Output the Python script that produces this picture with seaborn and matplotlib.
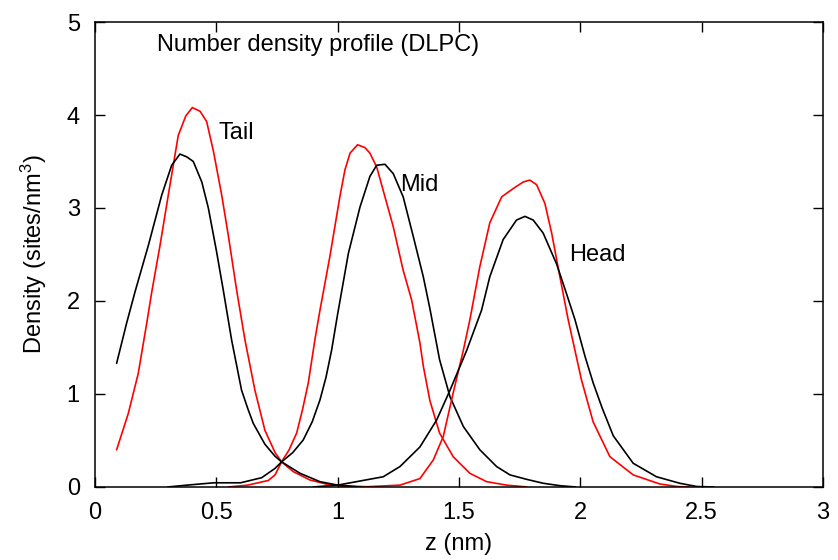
import matplotlib
matplotlib.use("Agg")
import matplotlib.pyplot as plt
import seaborn as sns
import pandas as pd

# ---- data ----
tail_red_z = [0.089, 0.137, 0.178, 0.213, 0.234, 0.268, 0.302, 0.343, 0.374, 0.401, 0.433, 0.460,
              0.488, 0.522, 0.549, 0.584, 0.618, 0.659, 0.700, 0.742, 0.769, 0.817, 0.886, 0.955,
              1.04, 1.10]
tail_red_y = [0.40, 0.79, 1.22, 1.76, 2.10, 2.60, 3.14, 3.78, 3.99, 4.08, 4.04, 3.93,
              3.61, 3.14, 2.71, 2.11, 1.58, 1.04, 0.61, 0.37, 0.27, 0.165, 0.075, 0.03,
              0.005, 0.0]

tail_blk_z = [0.089, 0.130, 0.165, 0.220, 0.275, 0.316, 0.350, 0.378, 0.405, 0.440, 0.467, 0.501,
              0.529, 0.563, 0.604, 0.630, 0.652, 0.700, 0.742, 0.769, 0.845, 0.927, 1.00, 1.08, 1.15]
tail_blk_y = [1.33, 1.76, 2.10, 2.60, 3.14, 3.46, 3.58, 3.55, 3.50, 3.28, 3.00, 2.53,
              2.11, 1.58, 1.04, 0.84, 0.685, 0.46, 0.33, 0.27, 0.147, 0.057, 0.02, 0.005, 0.0]

mid_red_z = [0.55, 0.63, 0.714, 0.742, 0.769, 0.800, 0.831, 0.855, 0.879, 0.906, 0.927, 0.968,
             1.009, 1.030, 1.051, 1.082, 1.112, 1.133, 1.161, 1.195, 1.229, 1.270, 1.305, 1.339,
             1.353, 1.380, 1.420, 1.476, 1.545, 1.614, 1.696, 1.78]
mid_red_y = [0.0, 0.02, 0.07, 0.13, 0.27, 0.40, 0.58, 0.83, 1.12, 1.58, 1.90, 2.48,
             3.12, 3.41, 3.59, 3.68, 3.65, 3.59, 3.44, 3.12, 2.80, 2.33, 2.01, 1.55,
             1.30, 0.93, 0.58, 0.326, 0.147, 0.057, 0.02, 0.0]

mid_blk_z = [0.30, 0.38, 0.49, 0.60, 0.687, 0.742, 0.769, 0.815, 0.858, 0.895, 0.927, 0.952,
             0.975, 1.000, 1.044, 1.092, 1.133, 1.161, 1.195, 1.229, 1.270, 1.312, 1.353, 1.380,
             1.420, 1.463, 1.518, 1.586, 1.655, 1.710, 1.779, 1.847, 1.916, 1.98]
mid_blk_y = [0.0, 0.02, 0.045, 0.045, 0.10, 0.20, 0.27, 0.37, 0.505, 0.70, 0.935, 1.18,
             1.47, 1.86, 2.51, 3.01, 3.34, 3.46, 3.47, 3.37, 3.12, 2.69, 2.26, 1.92,
             1.37, 0.97, 0.65, 0.40, 0.22, 0.13, 0.082, 0.04, 0.014, 0.0]

head_red_z = [1.10, 1.257, 1.339, 1.394, 1.435, 1.476, 1.518, 1.545, 1.586, 1.627, 1.676, 1.724,
              1.765, 1.792, 1.820, 1.854, 1.882, 1.916, 1.950, 2.005, 2.053, 2.122, 2.218, 2.328,
              2.40, 2.45]
head_red_y = [0.0, 0.02, 0.09, 0.29, 0.54, 1.01, 1.47, 1.80, 2.37, 2.84, 3.12, 3.21,
              3.28, 3.30, 3.25, 3.05, 2.73, 2.26, 1.80, 1.15, 0.70, 0.326, 0.13, 0.032,
              0.005, 0.0]

head_blk_z = [0.90, 1.00, 1.188, 1.257, 1.339, 1.408, 1.463, 1.532, 1.593, 1.627, 1.682, 1.737,
              1.772, 1.806, 1.847, 1.902, 1.943, 1.978, 2.02, 2.053, 2.09, 2.136, 2.218, 2.314,
              2.41, 2.48, 2.55]
head_blk_y = [0.0, 0.02, 0.11, 0.22, 0.43, 0.72, 1.04, 1.47, 1.90, 2.26, 2.66, 2.87,
              2.91, 2.87, 2.73, 2.40, 2.08, 1.80, 1.40, 1.12, 0.85, 0.55, 0.255, 0.11,
              0.04, 0.005, 0.0]

curve_labels = ["Tail", "Mid", "Head"]
label_pos = [(0.507, 3.81), (1.257, 3.25), (1.953, 2.49)]
title_text = "Number density profile (DLPC)"

# ---- style ----
sns.set_theme(style="ticks")
plt.rcParams['font.family'] = ['Liberation Sans', 'DejaVu Sans']
plt.rcParams['mathtext.fontset'] = 'custom'
plt.rcParams['mathtext.rm'] = 'Liberation Sans'
plt.rcParams['mathtext.it'] = 'Liberation Sans'
plt.rcParams['text.color'] = 'black'
plt.rcParams['axes.labelcolor'] = 'black'

FS = 17
fig = plt.figure(figsize=(8.38, 5.6), dpi=100)
ax = fig.add_axes([0.1134, 0.1304, 0.8686, 0.8303])

series = [
    (tail_red_z, tail_red_y, "red"),
    (tail_blk_z, tail_blk_y, "black"),
    (mid_red_z, mid_red_y, "red"),
    (mid_blk_z, mid_blk_y, "black"),
    (head_red_z, head_red_y, "red"),
    (head_blk_z, head_blk_y, "black"),
]
for z, y, c in series:
    df = pd.DataFrame({"z": z, "y": y})
    sns.lineplot(data=df, x="z", y="y", ax=ax, color=c, linewidth=1.2,
                 sort=False, estimator=None)

ax.set_xlim(0, 3)
ax.set_ylim(0, 5)
ax.set_xticks([0, 0.5, 1, 1.5, 2, 2.5, 3])
ax.set_xticklabels(["0", "0.5", "1", "1.5", "2", "2.5", "3"])
ax.set_yticks([0, 1, 2, 3, 4, 5])
ax.tick_params(direction="in", length=7, width=1, top=True, right=True,
               labelsize=FS, pad=11, colors="black")
for s in ax.spines.values():
    s.set_visible(True)
    s.set_linewidth(1.1)
    s.set_color("black")

ax.set_xlabel("z (nm)", fontsize=FS, labelpad=6)
ax.set_ylabel("Density (sites/nm$^3$)", fontsize=FS, labelpad=13)

ax.text(0.255, 4.75, title_text, fontsize=FS, ha="left", va="center")
for lab, (x, y) in zip(curve_labels, label_pos):
    ax.text(x, y, lab, fontsize=FS, ha="left", va="center")

fig.savefig("out.png", dpi=100)
